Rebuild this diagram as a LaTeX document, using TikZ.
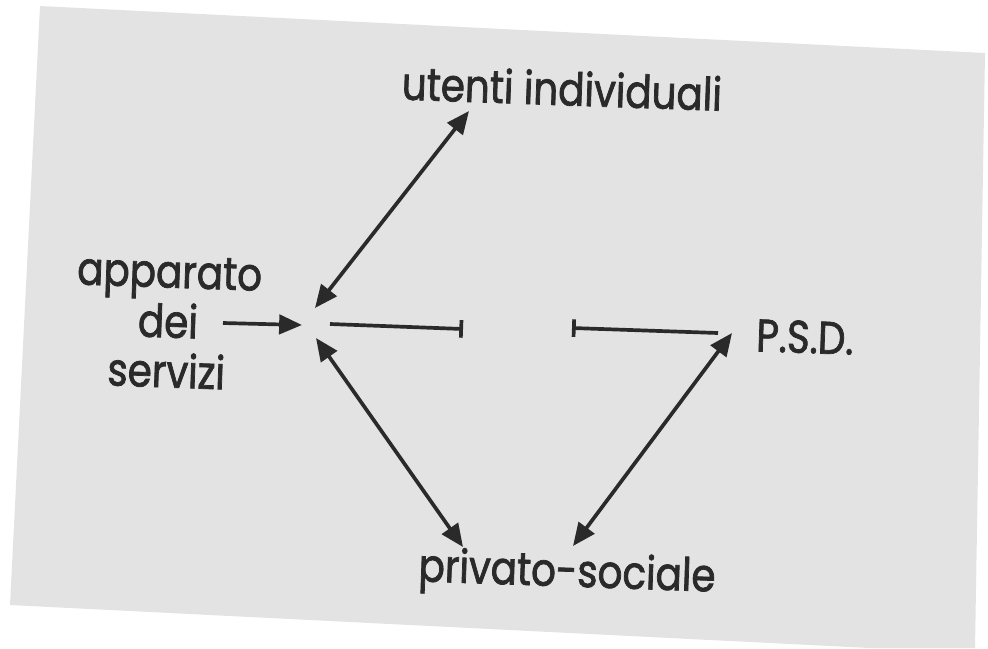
\documentclass[tikz,border=0pt]{standalone}
\usepackage{fontspec}
\setmainfont{Poppins}[FakeStretch=0.85, FakeBold=1.6]
\usetikzlibrary{arrows.meta}
\definecolor{page}{HTML}{E3E3E3}
\definecolor{ink}{HTML}{2A2A2A}
\begin{document}
\begin{tikzpicture}[x=0.01cm,y=-0.01cm,
  lbl/.style={text=ink, font=\fontsize{13}{14.2}\selectfont, inner sep=0pt, rotate=-2},
  dbl/.style={draw=ink, line width=1.05pt, {Triangle[length=6.5pt,width=5.5pt]}-{Triangle[length=6.5pt,width=5.5pt]}},
  one/.style={draw=ink, line width=1.05pt, -{Triangle[length=6.5pt,width=5.5pt]}},
  barred/.style={draw=ink, line width=1.05pt}]
\useasboundingbox (0,0) rectangle (988,648);
\fill[page] (40,6) -- (985,53) -- (975,648) -- (870,648) -- (10,605) -- cycle;

\node[lbl] (ut) at (562,88) {utenti individuali};
\node[lbl, align=center] (ap) at (168,322) {apparato\\dei\\servizi};
\node[lbl] (psd) at (805,337) {P.S.D.};
\node[lbl] (ps) at (567,575) {privato-sociale};

\coordinate (ain) at (223,323);
\coordinate (aout) at (302,325);
\coordinate (u1) at (469,111);
\coordinate (c1) at (315,308);
\coordinate (c2) at (316,338);
\coordinate (p1) at (463,547);
\coordinate (p2) at (573,546);
\coordinate (s1) at (732,333);
\coordinate (b1s) at (330,324);
\coordinate (b1e) at (463,329);
\coordinate (b2s) at (572,328);
\coordinate (b2e) at (718,333);

\draw[one] (ain) -- (aout);
\draw[dbl] (c1) -- (u1);
\draw[dbl] (c2) -- (p1);
\draw[dbl] (p2) -- (s1);
\draw[barred, -{Bar[width=5pt]}] (b1s) -- (b1e);
\draw[barred, {Bar[width=5pt]}-] (b2s) -- (b2e);
\end{tikzpicture}
\end{document}
